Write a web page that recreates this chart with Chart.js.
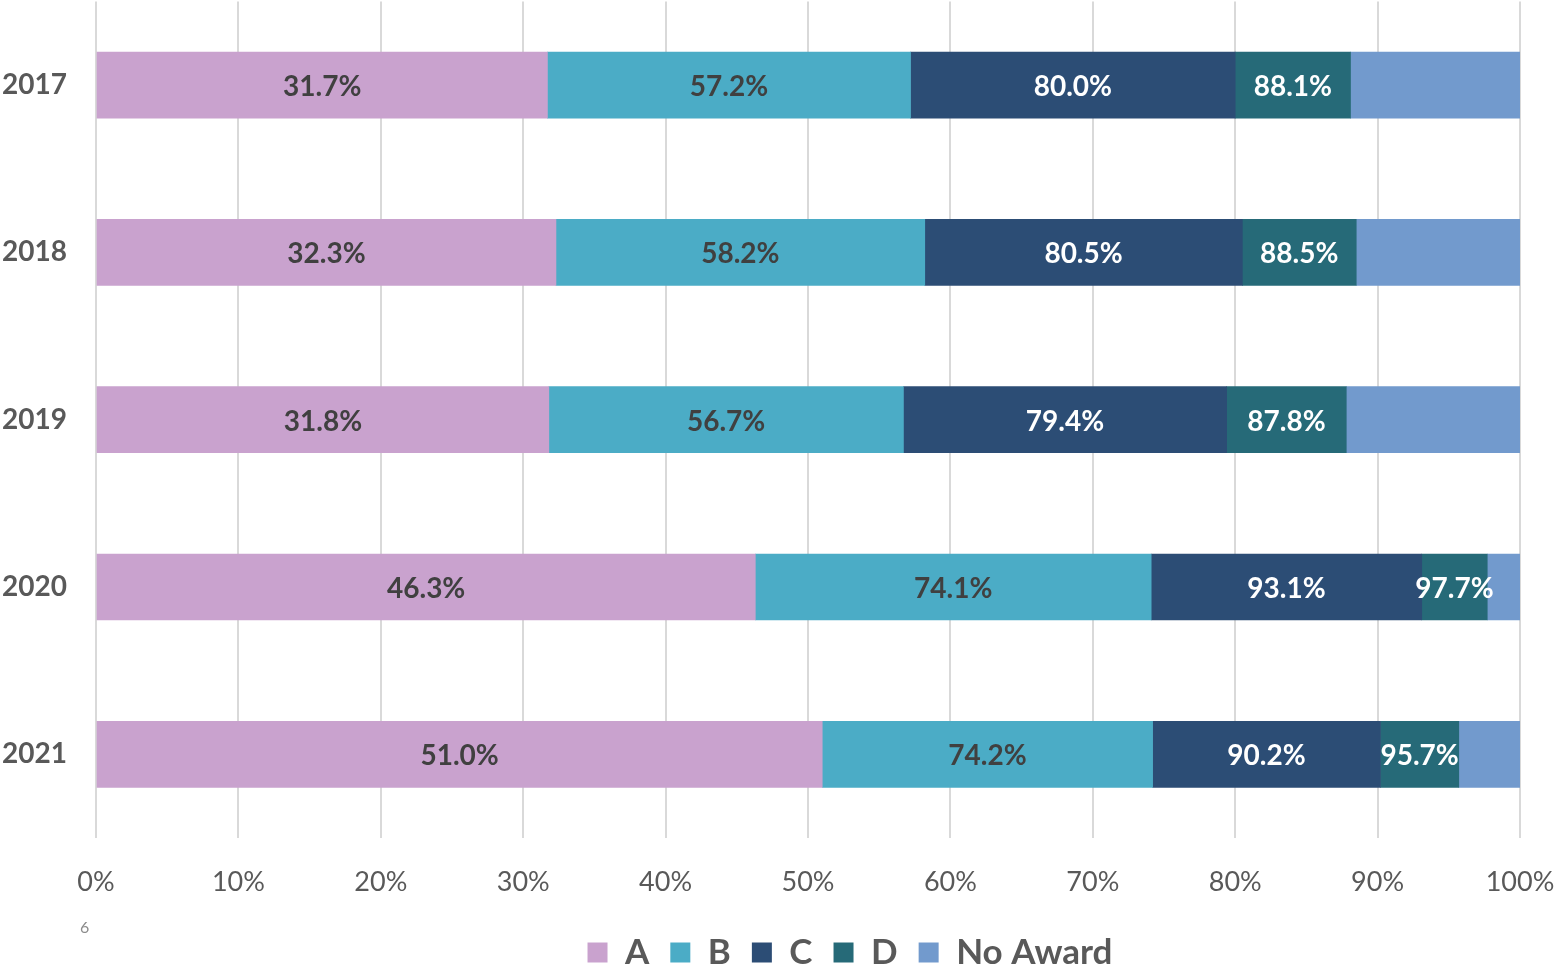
<!DOCTYPE html>
<html>
<head>
<meta charset="utf-8">
<script src="https://cdn.jsdelivr.net/npm/chart.js@4.4.1/dist/chart.umd.min.js"></script>
<style>
  html, body { margin: 0; padding: 0; background: #fff; }
  #wrap { position: relative; width: 1561px; height: 973px; }
  #pagina { position: absolute; left: 80px; top: 917px; font: 16px Lato, sans-serif; color: #8c8c8c; }
</style>
</head>
<body>
<div id="wrap">
  <canvas id="grafica" width="1561" height="973"></canvas>
  <div id="pagina">6</div>
</div>
<script>
// ===============================
// DATOS (porcentajes acumulados)
// ===============================
const anios = ["2017", "2018", "2019", "2020", "2021"];
const acumA = [31.7, 32.3, 31.8, 46.3, 51.0];
const acumB = [57.2, 58.2, 56.7, 74.1, 74.2];
const acumC = [80.0, 80.5, 79.4, 93.1, 90.2];
const acumD = [88.1, 88.5, 87.8, 97.7, 95.7];
const acumTotal = [100, 100, 100, 100, 100];
const ticksX = [0, 10, 20, 30, 40, 50, 60, 70, 80, 90, 100];

const series = ["A", "B", "C", "D", "No Award"];
const colores = ["#C9A2CE", "#4BACC6", "#2C4D75", "#266A78", "#729ACD"];
const coloresTexto = ["#404040", "#404040", "#ffffff", "#ffffff", null];

// cada tramo = diferencia entre acumulados
const acumulados = [acumA, acumB, acumC, acumD, acumTotal];
const tramos = acumulados.map((arr, i) =>
  arr.map((v, j) => +(v - (i === 0 ? 0 : acumulados[i - 1][j])).toFixed(1))
);

const fuente = "Lato, 'Open Sans', sans-serif";

// Etiquetas dentro de las barras (valor acumulado)
const etiquetas = {
  id: "etiquetas",
  afterLayout(chart) {
    // la leyenda del original no está centrada en el lienzo
    const d = 90;
    chart.legend.left += d;
    chart.legend.right += d;
  },
  afterDatasetsDraw(chart) {
    const c = chart.ctx;
    c.save();
    c.font = "bold 28px " + fuente;
    c.textAlign = "center";
    c.textBaseline = "middle";
    chart.data.datasets.forEach((ds, i) => {
      if (!coloresTexto[i]) return;
      chart.getDatasetMeta(i).data.forEach((bar, j) => {
        const p = bar.getProps(["x", "y", "base"], true);
        c.fillStyle = coloresTexto[i];
        c.fillText(acumulados[i][j].toFixed(1) + "%", (p.x + p.base) / 2, p.y + 2);
      });
    });
    c.restore();
  }
};

const chart = new Chart(document.getElementById("grafica"), {
  type: "bar",
  data: {
    labels: anios,
    datasets: series.map((s, i) => ({
      label: s,
      data: tramos[i],
      backgroundColor: colores[i],
      barThickness: 66
    }))
  },
  options: {
    indexAxis: "y",
    responsive: false,
    animation: false,
    layout: { padding: { top: 0, right: 41, left: 0, bottom: -7 } },
    scales: {
      x: {
        stacked: true,
        min: 0,
        max: 100,
        afterBuildTicks: s => { s.ticks = ticksX.map(v => ({ value: v })); },
        afterFit: s => { s.height = 76; },
        grid: { color: "#D9D9D9", lineWidth: 2, drawTicks: true, tickLength: 28, tickColor: "rgba(0,0,0,0)" },
        border: { display: false },
        ticks: {
          padding: 0,
          color: "#595959",
          font: { family: fuente, size: 27 },
          callback: v => v + "%"
        }
      },
      y: {
        stacked: true,
        afterFit: s => { s.width = 96; },
        grid: { display: false, drawTicks: true, tickLength: 29 },
        border: { display: false },
        ticks: {
          padding: 0,
          color: "#595959",
          font: { family: fuente, size: 28, weight: "bold", lineHeight: 0.1 }
        }
      }
    },
    plugins: {
      legend: {
        position: "bottom",
        labels: {
          boxWidth: 20,
          boxHeight: 20,
          padding: 21,
          color: "#595959",
          font: { family: fuente, size: 35, weight: "bold" }
        }
      },
      tooltip: { enabled: false }
    }
  },
  plugins: [etiquetas]
});
</script>
</body>
</html>
